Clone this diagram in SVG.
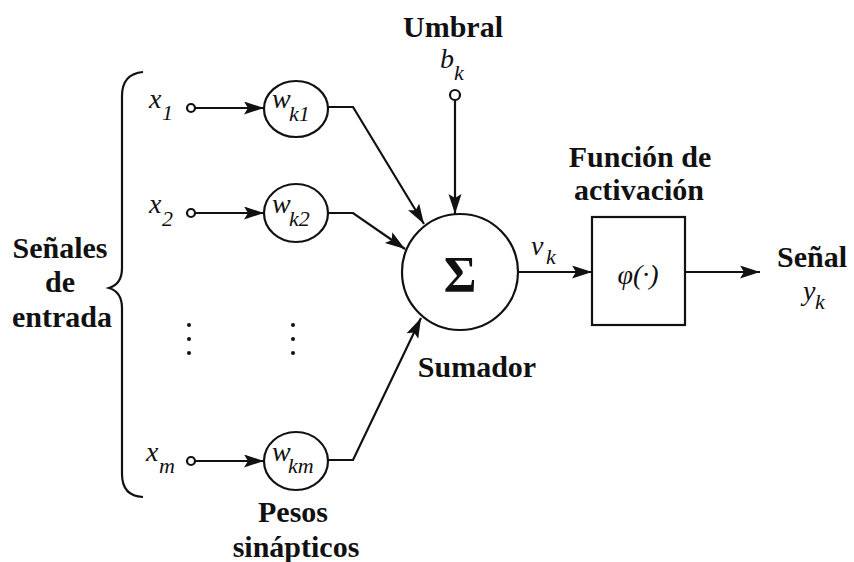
<svg xmlns="http://www.w3.org/2000/svg" width="854" height="562" viewBox="0 0 854 562" font-family="Liberation Serif, Times New Roman, DejaVu Serif, serif">
<defs>
<style>
.lbl{font-weight:bold;font-size:30px;text-anchor:middle;fill:#111}
.m{font-style:italic;font-size:28px;fill:#111}
.s{font-style:italic;font-size:22px;fill:#111}
.ln{fill:none;stroke:#111;stroke-width:2.2}
.nd{fill:#fff;stroke:#111;stroke-width:2.2}
.dot{fill:#111}
</style>
<marker id="ah" markerUnits="userSpaceOnUse" markerWidth="22" markerHeight="14" refX="20" refY="6.5" orient="auto">
<path d="M0,0 L20,6.5 L0,13 L4,6.5 Z" fill="#111"/>
</marker>
</defs>
<rect width="854" height="562" fill="#fff"/>

<g id="connectors">
<line class="ln" x1="195" y1="108" x2="264" y2="108" marker-end="url(#ah)"/>
<line class="ln" x1="195" y1="213" x2="264" y2="213" marker-end="url(#ah)"/>
<line class="ln" x1="195" y1="461" x2="264" y2="461" marker-end="url(#ah)"/>
<polyline class="ln" points="328,107 353,107 424,224" marker-end="url(#ah)"/>
<polyline class="ln" points="328,213 353,213 405,249" marker-end="url(#ah)"/>
<polyline class="ln" points="328,460 353,460 421,318" marker-end="url(#ah)"/>
<line class="ln" x1="455" y1="100" x2="455" y2="214" marker-end="url(#ah)"/>
<line class="ln" x1="518" y1="272" x2="592" y2="272" marker-end="url(#ah)"/>
<line class="ln" x1="685" y1="272" x2="760" y2="272" marker-end="url(#ah)"/>
</g>

<g id="brace">
<path class="ln" d="M143,72 Q122,74 122,96 L122,268 Q122,284 109,288 Q122,292 122,308 L122,474 Q122,496 143,497"/>
<text class="lbl" x="60" y="258">Señales</text>
<text class="lbl" x="60" y="292">de</text>
<text class="lbl" x="62" y="327">entrada</text>
</g>

<g id="x1">
<text class="m" x="149" y="108">x</text><text class="s" x="162" y="120">1</text>
<circle class="nd" cx="191" cy="108" r="4"/>
</g>
<g id="x2">
<text class="m" x="149" y="213">x</text><text class="s" x="162" y="226">2</text>
<circle class="nd" cx="191" cy="213" r="4"/>
</g>
<g id="xm">
<text class="m" x="146" y="461">x</text><text class="s" x="159" y="473">m</text>
<circle class="nd" cx="191" cy="461" r="4"/>
</g>

<g id="dots">
<circle class="dot" cx="189" cy="325" r="2"/>
<circle class="dot" cx="189" cy="339" r="2"/>
<circle class="dot" cx="189" cy="353" r="2"/>
<circle class="dot" cx="293" cy="325" r="2"/>
<circle class="dot" cx="293" cy="339" r="2"/>
<circle class="dot" cx="293" cy="353" r="2"/>
</g>

<g id="wk1">
<ellipse class="nd" cx="296" cy="109" rx="32" ry="28"/>
<text class="m" x="272" y="108">w</text><text class="s" x="289" y="121">k1</text>
</g>
<g id="wk2">
<ellipse class="nd" cx="296" cy="213" rx="32" ry="29"/>
<text class="m" x="272" y="213">w</text><text class="s" x="289" y="226">k2</text>
</g>
<g id="wkm">
<ellipse class="nd" cx="296" cy="461" rx="32" ry="29"/>
<text class="m" x="272" y="461">w</text><text class="s" x="288" y="473">km</text>
</g>
<text class="lbl" x="293" y="522">Pesos</text>
<text class="lbl" x="296" y="557">sinápticos</text>

<g id="bias">
<text class="lbl" x="453" y="37">Umbral</text>
<text class="m" x="440" y="68">b</text><text class="s" x="454" y="80">k</text>
<circle class="nd" cx="455" cy="95" r="5"/>
</g>

<g id="sum">
<circle class="nd" cx="460" cy="272" r="58"/>
<text x="460" y="291" text-anchor="middle" font-weight="bold" font-size="50" fill="#111">Σ</text>
<text class="lbl" x="477" y="377">Sumador</text>
</g>

<g id="vk">
<text class="m" x="531" y="255">v</text><text class="s" x="546" y="264">k</text>
</g>

<g id="activation">
<text class="lbl" x="640" y="167">Función de</text>
<text class="lbl" x="639" y="200">activación</text>
<rect class="nd" x="592" y="217" width="93" height="108"/>
<text class="m" x="638" y="284" text-anchor="middle">φ(·)</text>
</g>

<g id="output">
<text class="lbl" x="812" y="267">Señal</text>
<text class="m" x="803" y="300">y</text><text class="s" x="815" y="309">k</text>
</g>
</svg>
